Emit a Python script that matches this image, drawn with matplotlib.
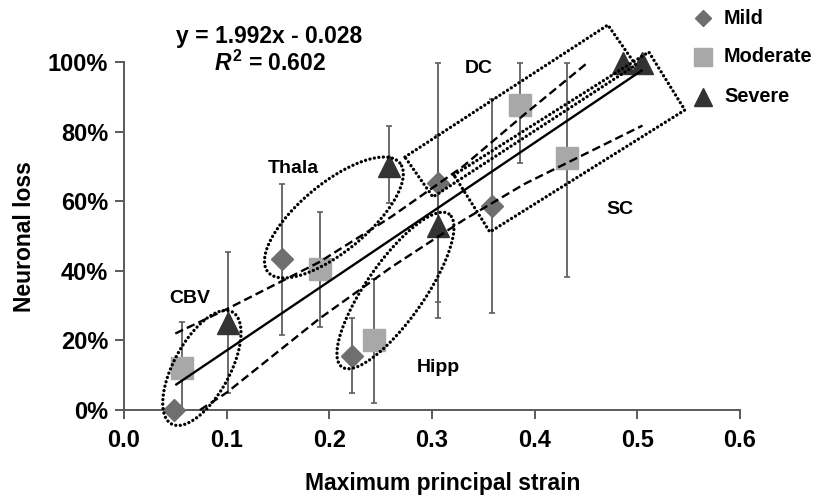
import numpy as np
import matplotlib
matplotlib.use("Agg")
import matplotlib.pyplot as plt
from matplotlib.lines import Line2D
from matplotlib.ticker import FuncFormatter

plt.rcParams['font.family'] = ['Liberation Sans', 'DejaVu Sans']
plt.rcParams['font.weight'] = 'bold'
plt.rcParams['mathtext.fontset'] = 'custom'
plt.rcParams['mathtext.it'] = 'Liberation Sans:italic:bold'
plt.rcParams['mathtext.rm'] = 'Liberation Sans:bold'
plt.rcParams['mathtext.bf'] = 'Liberation Sans:bold'

# ---------------- data ----------------
mild_x = [0.049, 0.1535, 0.2217, 0.3054, 0.3587]
mild_y = [0.000, 0.433, 0.155, 0.654, 0.587]
mild_lo = [0.000, 0.215, 0.048, 0.311, 0.278]
mild_hi = [0.000, 0.649, 0.264, 0.997, 0.894]

mod_x = [0.0562, 0.1908, 0.2434, 0.3862, 0.4317]
mod_y = [0.120, 0.405, 0.201, 0.876, 0.724]
mod_lo = [0.000, 0.240, 0.019, 0.710, 0.383]
mod_hi = [0.252, 0.570, 0.378, 0.997, 0.997]

sev_x = [0.1016, 0.2584, 0.3060, 0.4862, 0.5041]
sev_y = [0.250, 0.702, 0.530, 0.997, 0.998]
sev_lo = [0.048, 0.594, 0.264, 0.997, 0.998]
sev_hi = [0.455, 0.817, 0.790, 0.997, 0.998]

fit_slope = 1.992
fit_intercept = -0.028
fit_r2 = 0.602
fit_x = [0.05, 0.505]

upper_x = [0.05, 0.10, 0.19, 0.26, 0.33, 0.39, 0.452]
upper_y = [0.22, 0.29, 0.425, 0.555, 0.70, 0.85, 1.0]
lower_x = [0.074, 0.10, 0.19, 0.26, 0.33, 0.39, 0.505]
lower_y = [0.0, 0.05, 0.262, 0.41, 0.545, 0.65, 0.818]

# region outlines (data coordinates)
ellipses = {
    'CBV':   ((0.0462, -0.040), (0.1055, 0.282), 28),
    'Thala': ((0.1402, 0.3969), (0.2687, 0.7104), 34),
    'Hipp':  ((0.2123, 0.1237), (0.3165, 0.5637), 29),
}
dc_box_x = [0.2736, 0.4713, 0.4985, 0.3009]
dc_box_y = [0.7276, 1.1073, 0.9922, 0.6126]
sc_box_x = [0.3213, 0.5112, 0.5463, 0.3564]
sc_box_y = [0.6759, 1.0296, 0.8628, 0.5119]

region_labels = ['Thala', 'CBV', 'Hipp', 'DC', 'SC']
region_lx = [0.1648, 0.0643, 0.3060, 0.3460, 0.4830]
region_ly = [0.6951, 0.3211, 0.1236, 0.9827, 0.5753]

x_ticks = [0.0, 0.1, 0.2, 0.3, 0.4, 0.5, 0.6]
y_ticks = [0.0, 0.2, 0.4, 0.6, 0.8, 1.0]

legend_labels = ['Mild', 'Moderate', 'Severe']

# ---------------- figure ----------------
fig = plt.figure(figsize=(8.17, 4.99), dpi=100)
ax = fig.add_axes([124/817, 89/499, 616/817, 347.7/499])
ax.set_xlim(0, 0.6)
ax.set_ylim(0, 1.0)

spine_c = '#5a5a5a'
for s in ['top', 'right']:
    ax.spines[s].set_visible(False)
for s in ['left', 'bottom']:
    ax.spines[s].set_color(spine_c)
    ax.spines[s].set_linewidth(1.4)

ax.set_xticks(x_ticks)
ax.set_yticks(y_ticks)
ax.xaxis.set_major_formatter(FuncFormatter(lambda v, p: f"{v:.1f}"))
ax.yaxis.set_major_formatter(FuncFormatter(lambda v, p: f"{v*100:.0f}%"))
ax.tick_params(axis='both', direction='out', length=6.5, width=1.4, color=spine_c,
               labelsize=17)
ax.tick_params(axis='x', pad=7)
ax.tick_params(axis='y', pad=5)
for lab in ax.get_xticklabels() + ax.get_yticklabels():
    lab.set_fontweight('bold')

ax.set_xlabel('Maximum principal strain', fontsize=16.5, fontweight='bold')
ax.set_ylabel('Neuronal loss', fontsize=16.5, fontweight='bold')
ax.xaxis.set_label_coords(0.518, -0.178)
ax.yaxis.set_label_coords(-0.143, 0.5)

c_mild = '#6f6f6f'
c_mod = '#a8a8a8'
c_sev = '#333333'
err_c = '#5f5f5f'

def draw_series(xs, ys, lo, hi, marker, ms, color):
    yerr = [np.array(ys) - np.array(lo), np.array(hi) - np.array(ys)]
    ax.errorbar(xs, ys, yerr=yerr, fmt='none', ecolor=err_c, elinewidth=1.3,
                capsize=2.3, capthick=1.2, zorder=2, clip_on=False)
    ax.plot(xs, ys, linestyle='none', marker=marker, ms=ms, color=color,
            markeredgecolor=color, zorder=3, clip_on=False)

draw_series(mild_x, mild_y, mild_lo, mild_hi, 'D', 11, c_mild)
draw_series(mod_x, mod_y, mod_lo, mod_hi, 's', 16, c_mod)
draw_series(sev_x, sev_y, sev_lo, sev_hi, '^', 16.5, c_sev)

# regression line and bands
fx = np.array(fit_x)
ax.plot(fx, fit_slope * fx + fit_intercept, color='black', lw=1.7, zorder=5,
        solid_capstyle='butt')
dash = (0, (3.6, 1.8))
ax.plot(upper_x, upper_y, color='black', lw=1.7, linestyle=dash, zorder=5, clip_on=False)
ax.plot(lower_x, lower_y, color='black', lw=1.7, linestyle=dash, zorder=5, clip_on=False)

# region outlines
dot = (0, (0.01, 1.35))
def ellipse_pts(p1, p2, b_px, n=300):
    d1 = ax.transData.transform(p1)
    d2 = ax.transData.transform(p2)
    c = (d1 + d2) / 2
    v = (d2 - d1) / 2
    a = np.hypot(*v)
    u = v / a
    w = np.array([-u[1], u[0]]) * b_px
    t = np.linspace(0, 2 * np.pi, n)
    pts = c + np.outer(np.cos(t), v) + np.outer(np.sin(t), w)
    return ax.transData.inverted().transform(pts)

for name, (p1, p2, b) in ellipses.items():
    pts = ellipse_pts(p1, p2, b)
    ax.plot(pts[:, 0], pts[:, 1], color='black', lw=2.4, linestyle=dot,
            dash_capstyle='round', zorder=6, clip_on=False)

for bx, by in [(dc_box_x, dc_box_y), (sc_box_x, sc_box_y)]:
    ax.plot(bx + bx[:1], by + by[:1], color='black', lw=2.4, linestyle=dot,
            dash_capstyle='round', zorder=6, clip_on=False)

for lab, lx, ly in zip(region_labels, region_lx, region_ly):
    ax.text(lx, ly, lab, fontsize=14, fontweight='bold', ha='center', va='center',
            zorder=7)

# equation
fig.text(269/817, 1 - 36/499, f"y = {fit_slope:.3f}x - {abs(fit_intercept):.3f}",
         fontsize=16.5, fontweight='bold', ha='center', va='center')
fig.text(270/817, 1 - 63/499, rf"$R^{{2}}$ = {fit_r2:.3f}",
         fontsize=16.5, fontweight='bold', ha='center', va='center')

# legend (placed manually)
leg_markers = ['D', 's', '^']
leg_ms = [8.5, 12.5, 12.5]
leg_colors = [c_mild, c_mod, c_sev]
leg_rows = [18, 57, 97]
for lab, mk, ms, col, row in zip(legend_labels, leg_markers, leg_ms, leg_colors, leg_rows):
    fig.add_artist(Line2D([703/817], [1 - row/499], linestyle='none', marker=mk,
                          ms=ms, color=col, transform=fig.transFigure))
    fig.text(724/817, 1 - row/499, lab, fontsize=14.3, fontweight='bold',
             ha='left', va='center')

fig.savefig('out.png', dpi=100)
